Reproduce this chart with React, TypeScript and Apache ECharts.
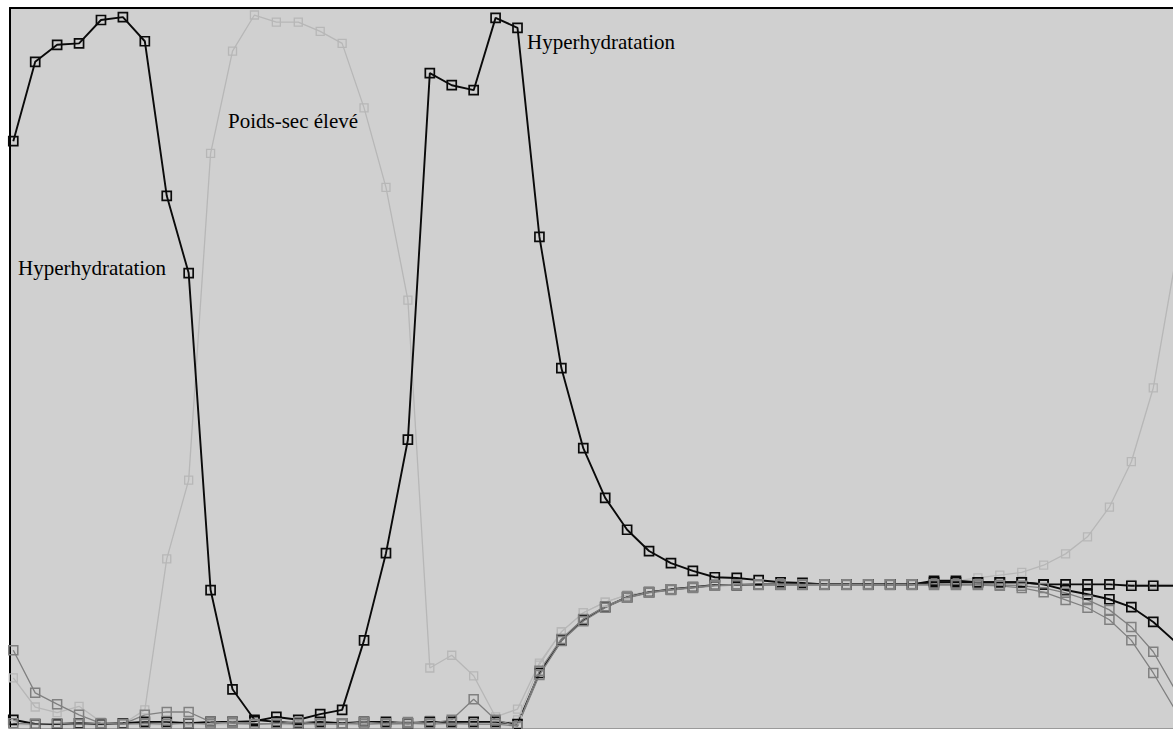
import React, { useEffect, useRef } from "react";
import * as echarts from "echarts";

// Membership profiles (percent), 54 successive samples
const hyperLeft = [
  82.2, 93.4, 95.8, 96.0, 99.3, 99.7, 96.3, 74.5, 63.6, 18.9,
  4.9, 0.6, 0.3, 0.1, 0.3, 0.1, 0.3, 0.3, 0.1, 0.3,
  0.3, 0.3, 0.3, 0.0, 7.2, 11.8, 14.7, 16.5, 17.9, 18.6,
  19.0, 19.3, 19.6, 19.6, 19.7, 19.7, 19.7, 19.7, 19.7, 19.7,
  19.7, 19.7, 20.0, 20.0, 20.0, 20.0, 20.0, 19.7, 18.9, 18.3,
  17.6, 16.5, 14.4, 11.6,
];
const hyperMid = [
  0.6, 0.0, 0.0, 0.1, 0.0, 0.1, 0.3, 0.3, 0.1, 0.3,
  0.3, 0.4, 1.0, 0.6, 1.4, 2.0, 11.8, 24.1, 40.1, 91.8,
  90.1, 89.4, 99.6, 98.2, 68.7, 50.2, 38.9, 31.9, 27.4, 24.4,
  22.7, 21.6, 20.7, 20.6, 20.3, 20.0, 19.9, 19.7, 19.7, 19.7,
  19.7, 19.7, 20.2, 20.2, 20.0, 20.0, 20.0, 19.7, 19.7, 19.7,
  19.7, 19.5, 19.5, 19.5,
];
const poidsSec = [
  6.5, 2.4, 1.6, 2.5, 0.3, 0.0, 2.0, 23.3, 34.4, 80.5,
  94.9, 100.0, 99.0, 99.0, 97.7, 96.0, 86.9, 75.7, 59.8, 7.9,
  9.7, 6.8, 1.0, 2.1, 8.6, 13.0, 15.7, 17.2, 18.2, 18.6,
  19.0, 19.3, 19.6, 19.6, 19.6, 19.7, 19.7, 19.7, 19.7, 19.7,
  19.7, 19.7, 19.7, 20.2, 20.6, 21.0, 21.4, 22.4, 24.0, 26.4,
  30.6, 37.0, 47.4, 65.2,
];
const lowLight = [
  -0.1, -0.1, -0.1, -0.1, -0.1, 0.0, -0.1, -0.1, 0.3, -0.1,
  -0.1, 0.0, -0.1, -0.1, 0.0, -0.1, -0.1, 0.0, -0.1, 0.6,
  -0.1, 0.0, -0.1, 0.6, 8.3, 13.0, 15.7, 17.2, 18.2, 18.6,
  19.0, 19.3, 19.6, 19.6, 19.6, 19.7, 19.7, 19.7, 19.7, 19.7,
  19.7, 19.7, 19.7, 19.7, 19.7, 19.7, 19.7, 19.7, 19.7, 19.7,
  19.7, 19.7, 19.7, 19.7,
];
const midA = [
  10.4, 4.4, 2.8, 1.3, 0.1, 0.0, 1.3, 1.7, 1.7, 0.3,
  0.1, 0.0, 0.1, 0.0, 0.1, 0.0, 0.3, 0.0, 0.1, 0.0,
  0.1, 0.0, 0.0, -0.3, 7.5, 12.0, 14.8, 16.6, 17.9, 18.6,
  19.0, 19.3, 19.6, 19.7, 19.7, 19.7, 19.7, 19.7, 19.7, 19.7,
  19.7, 19.7, 19.7, 19.7, 19.7, 19.6, 19.5, 19.2, 18.5, 17.5,
  16.1, 13.7, 10.2, 4.8,
];
const midB = [
  0.1, 0.0, 0.1, 0.0, 0.1, 0.0, 0.1, 0.0, 0.1, 0.0,
  0.3, 0.0, 0.1, 0.3, 0.0, 0.1, 0.0, 0.1, 0.3, 0.1,
  0.6, 3.5, 0.6, -0.3, 6.9, 11.7, 14.5, 16.4, 17.8, 18.5,
  18.9, 19.2, 19.5, 19.6, 19.6, 19.6, 19.6, 19.6, 19.6, 19.6,
  19.6, 19.6, 19.6, 19.6, 19.6, 19.5, 19.2, 18.6, 17.5, 16.4,
  14.7, 11.8, 7.2, 2.0,
];

const labels = [
  { text: "Hyperhydratation", x: 18, y: 268 },
  { text: "Poids-sec élevé", x: 228, y: 121 },
  { text: "Hyperhydratation", x: 527, y: 42 },
];

const BG = "#d0d0d0";
const BLACK = "#0a0a0a";
const MID = "#808080";
const LIGHT = "#b7b7b7";

function mkSeries(name: string, values: number[], color: string, width: number, bw: number, size: number) {
  return {
    name,
    type: "line",
    data: values.map((v, i) => [i, v]),
    symbol: "rect",
    symbolSize: size,
    showSymbol: true,
    clip: true,
    lineStyle: { color, width },
    itemStyle: { color: "rgba(0,0,0,0)", borderColor: color, borderWidth: bw },
    emphasis: { disabled: true },
    z: 2,
  };
}

export default function App() {
  const ref = useRef<HTMLDivElement>(null);
  useEffect(() => {
    document.body.style.margin = "0";
    if (!ref.current) return;
    const chart = echarts.init(ref.current, undefined, { renderer: "svg" });
    chart.setOption({
      animation: false,
      backgroundColor: "#ffffff",
      grid: {
        left: 10,
        top: 8,
        right: 0,
        bottom: 1,
        show: true,
        backgroundColor: BG,
        borderWidth: 0,
      },
      xAxis: [
        {
          type: "value",
          min: -0.15,
          max: 52.9,
          position: "top",
          axisLine: { show: true, onZero: false, lineStyle: { color: "#000", width: 2 } },
          axisTick: { show: false },
          axisLabel: { show: false },
          splitLine: { show: false },
        },
        {
          type: "value",
          min: -0.15,
          max: 52.9,
          position: "bottom",
          axisLine: { show: true, onZero: false, lineStyle: { color: "#9a9a9a", width: 1 } },
          axisTick: { show: false },
          axisLabel: { show: false },
          splitLine: { show: false },
        },
      ],
      yAxis: {
        type: "value",
        min: -0.56,
        max: 100.99,
        position: "left",
        axisLine: { show: true, onZero: false, lineStyle: { color: "#000", width: 2 } },
        axisTick: { show: false },
        axisLabel: { show: false },
        splitLine: { show: false },
      },
      series: [
        mkSeries("Bas", lowLight, LIGHT, 1, 1.2, 8),
        mkSeries("Poids-sec élevé", poidsSec, LIGHT, 1.3, 1.3, 8),
        mkSeries("Hyperhydratation A", hyperLeft, BLACK, 1.9, 1.7, 9),
        mkSeries("Hyperhydratation B", hyperMid, BLACK, 1.9, 1.7, 9),
        mkSeries("Profil C", midA, MID, 1.3, 1.5, 9),
        mkSeries("Profil D", midB, MID, 1.3, 1.5, 9),
      ],
      graphic: labels.map((l) => ({
        type: "text",
        x: l.x,
        y: l.y,
        z: 100,
        style: {
          text: l.text,
          fontSize: 21,
          fontFamily: '"Liberation Serif", "Times New Roman", serif',
          fill: "#000",
          textAlign: "left",
          textVerticalAlign: "middle",
          verticalAlign: "middle",
        },
      })),
    });
    return () => chart.dispose();
  }, []);
  return <div ref={ref} style={{ width: 1173, height: 729 }} />;
}
